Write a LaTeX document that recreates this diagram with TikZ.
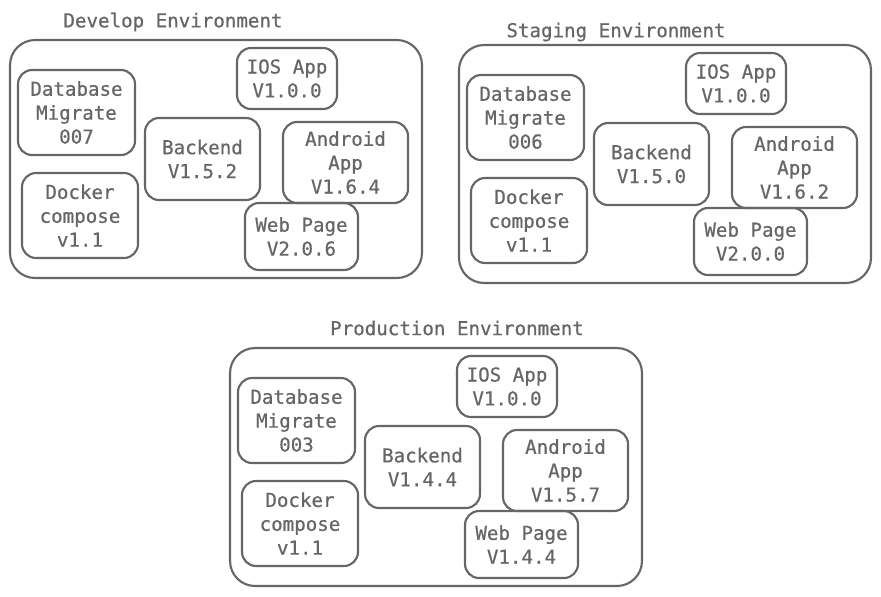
\documentclass[tikz,border=0pt]{standalone}
\usepackage{fontspec}
\newfontfamily\sketchfont[FakeBold=0.6]{DejaVu Sans Mono}
\definecolor{sketch}{HTML}{666666}

\begin{document}
\begin{tikzpicture}[x=0.02cm, y=-0.02cm]
		\tikzstyle {env text} = [text=sketch, font=\sketchfont\fontsize{10.9}{13.6}\selectfont]
		\tikzstyle {env frame} = [draw=sketch, line width=1.2pt, rounded corners=0.5cm, minimum width=8.24cm, minimum height=4.76cm]
		\tikzstyle {part box} = [env text, draw=sketch, line width=1.2pt, rounded corners=0.28cm, align=center, inner sep=0pt]

		\fill[white] (0,0) rectangle (881,596);
		\useasboundingbox (0,0) rectangle (881,596);

		\begin{scope}
			\node[env text] (dev title) at (173, 22) {Develop Environment};
			\node[env frame] (dev frame) at (216, 159) {};
			\node[part box, minimum width=2.34cm, minimum height=1.70cm] (dev db) at (76.5, 112.5) {Database\\Migrate\\007};
			\node[part box, minimum width=2.32cm, minimum height=1.70cm] (dev docker) at (80, 215.5) {Docker\\compose\\v1.1};
			\node[part box, minimum width=2.30cm, minimum height=1.64cm] (dev backend) at (202.5, 159) {Backend\\V1.5.2};
			\node[part box, minimum width=2.00cm, minimum height=1.22cm] (dev ios) at (287, 78.5) {IOS App\\V1.0.0};
			\node[part box, minimum width=2.50cm, minimum height=1.62cm] (dev android) at (345.5, 162.5) {Android\\App\\V1.6.4};
			\node[part box, minimum width=2.26cm, minimum height=1.34cm] (dev web) at (301.5, 236.5) {Web Page\\V2.0.6};
		\end{scope}

		\begin{scope}[shift={(449,5)}]
			\node[env text] (stg title) at (167, 27) {Staging Environment};
			\node[env frame] (stg frame) at (216, 159) {};
			\node[part box, minimum width=2.34cm, minimum height=1.70cm] (stg db) at (76.5, 112.5) {Database\\Migrate\\006};
			\node[part box, minimum width=2.32cm, minimum height=1.70cm] (stg docker) at (80, 215.5) {Docker\\compose\\v1.1};
			\node[part box, minimum width=2.30cm, minimum height=1.64cm] (stg backend) at (202.5, 159) {Backend\\V1.5.0};
			\node[part box, minimum width=2.00cm, minimum height=1.22cm] (stg ios) at (287, 78.5) {IOS App\\V1.0.0};
			\node[part box, minimum width=2.50cm, minimum height=1.62cm] (stg android) at (345.5, 162.5) {Android\\App\\V1.6.2};
			\node[part box, minimum width=2.26cm, minimum height=1.34cm] (stg web) at (301.5, 236.5) {Web Page\\V2.0.0};
		\end{scope}

		\begin{scope}[shift={(220,308)}]
			\node[env text] (prd title) at (237, 20) {Production Environment};
			\node[env frame] (prd frame) at (216, 159) {};
			\node[part box, minimum width=2.34cm, minimum height=1.70cm] (prd db) at (76.5, 112.5) {Database\\Migrate\\003};
			\node[part box, minimum width=2.32cm, minimum height=1.70cm] (prd docker) at (80, 215.5) {Docker\\compose\\v1.1};
			\node[part box, minimum width=2.30cm, minimum height=1.64cm] (prd backend) at (202.5, 159) {Backend\\V1.4.4};
			\node[part box, minimum width=2.00cm, minimum height=1.22cm] (prd ios) at (287, 78.5) {IOS App\\V1.0.0};
			\node[part box, minimum width=2.50cm, minimum height=1.62cm] (prd android) at (345.5, 162.5) {Android\\App\\V1.5.7};
			\node[part box, minimum width=2.26cm, minimum height=1.34cm] (prd web) at (301.5, 236.5) {Web Page\\V1.4.4};
		\end{scope}

	\end{tikzpicture}
\end{document}
